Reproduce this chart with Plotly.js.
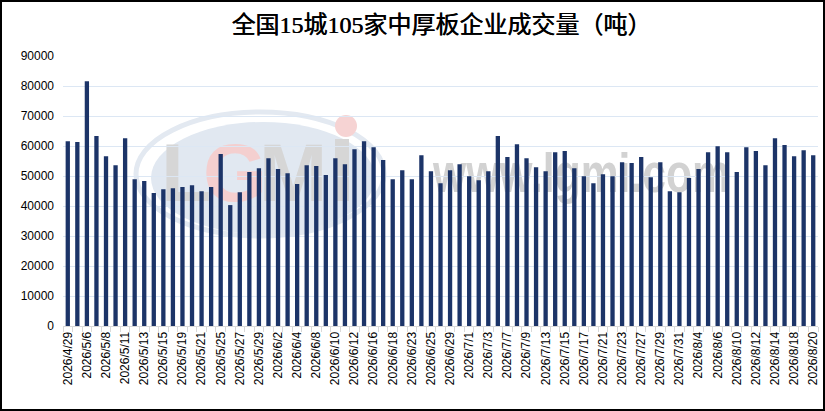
<!DOCTYPE html>
<html>
<head>
<meta charset="utf-8">
<script src="https://cdn.plot.ly/plotly-3.0.1.min.js"></script>
<style>
html,body{margin:0;padding:0;background:#fff;}
#wrap{position:relative;width:825px;height:411px;}
#chart{width:825px;height:411px;}
#frame{position:absolute;left:0;top:0;width:825px;height:411px;box-sizing:border-box;border:2px solid #000;pointer-events:none;}
</style>
</head>
<body>
<div id="wrap"><div id="chart"></div><div id="frame"></div></div>
<script>
const dates = [
"2026/4/29","2026/4/30","2026/5/6","2026/5/7","2026/5/8","2026/5/9","2026/5/11","2026/5/12","2026/5/13","2026/5/14",
"2026/5/15","2026/5/18","2026/5/19","2026/5/20","2026/5/21","2026/5/22","2026/5/25","2026/5/26","2026/5/27","2026/5/28",
"2026/5/29","2026/6/1","2026/6/2","2026/6/3","2026/6/4","2026/6/5","2026/6/8","2026/6/9","2026/6/10","2026/6/11",
"2026/6/12","2026/6/15","2026/6/16","2026/6/17","2026/6/18","2026/6/22","2026/6/23","2026/6/24","2026/6/25","2026/6/26",
"2026/6/29","2026/6/30","2026/7/1","2026/7/2","2026/7/3","2026/7/6","2026/7/7","2026/7/8","2026/7/9","2026/7/10",
"2026/7/13","2026/7/14","2026/7/15","2026/7/16","2026/7/17","2026/7/20","2026/7/21","2026/7/22","2026/7/23","2026/7/24",
"2026/7/27","2026/7/28","2026/7/29","2026/7/30","2026/7/31","2026/8/3","2026/8/4","2026/8/5","2026/8/6","2026/8/7",
"2026/8/10","2026/8/11","2026/8/12","2026/8/13","2026/8/14","2026/8/17","2026/8/18","2026/8/19","2026/8/20"
];
const volume = [
61600,61300,81600,63300,56600,53600,62600,48900,48300,44300,
45600,45900,46300,46900,44900,46300,57300,40300,44600,51300,
52600,55900,52300,50900,47300,53600,53300,50300,55900,53900,
58900,61600,59600,55300,48900,51900,48900,56900,51600,47600,
51900,53900,49900,48600,51600,63300,56300,60600,55900,52900,
51600,57900,58300,52600,49900,47600,50600,49900,54600,54300,
56300,49600,54600,44900,44600,49300,52300,57900,59900,57900,
51300,59600,58300,53600,62600,60300,56600,58600,56900
];
const tickLabels = dates.map((d, i) => (i % 2 === 0 ? d : ""));
const titleText = "全国15城105家中厚板企业成交量（吨）";

// watermark drawn in plot-area pixel space (755 x 270)
const wm = '<svg xmlns="http://www.w3.org/2000/svg" width="755" height="270" viewBox="0 0 755 270">' +
  '<ellipse cx="197" cy="118" rx="124" ry="62" fill="none" stroke="#e3e9f1" stroke-width="5"/>' +
  '<ellipse cx="200" cy="122" rx="112" ry="56" fill="#e1e8f1"/>' +
  '<text x="98" y="145" font-family="Liberation Sans" font-weight="bold" font-size="82" fill="#d6d6d6">L</text>' +
  '<text x="140" y="145" font-family="Liberation Sans" font-weight="bold" font-size="82" fill="#f4cfcf">G</text>' +
  '<text x="196" y="145" font-family="Liberation Sans" font-weight="bold" font-size="82" fill="#d6d6d6">M</text>' +
  '<rect x="272" y="83" width="14" height="62" fill="#d6d6d6"/>' +
  '<circle cx="283" cy="70" r="11" fill="#f6d3d3"/>' +
  '<text x="370" y="136" font-family="Liberation Sans" font-weight="bold" font-size="56" fill="#d2d2d2" textLength="297" lengthAdjust="spacingAndGlyphs">www.lgmi.com</text>' +
  '</svg>';

const trace = {
  type: "bar",
  x: dates,
  y: volume,
  marker: {color: "#1c3468"},
  hoverinfo: "x+y"
};

const layout = {
  width: 825,
  height: 411,
  margin: {l: 63, r: 7, t: 56, b: 85},
  paper_bgcolor: "#ffffff",
  plot_bgcolor: "rgba(0,0,0,0)",
  bargap: 0.55,
  showlegend: false,
  title: {
    text: titleText,
    x: 0.535, xanchor: "center",
    y: 0.94, yanchor: "middle",
    font: {family: "Liberation Serif, 'Noto Sans CJK SC'", size: 24, color: "#000", weight: "normal", shadow: "0.5px 0 0 #000"}
  },
  xaxis: {
    type: "category",
    tickvals: dates,
    ticktext: tickLabels,
    tickangle: -90,
    tickson: "boundaries",
    ticks: "outside",
    ticklen: 5,
    tickcolor: "#d9d9d9",
    showline: true,
    linecolor: "#d9d9d9",
    linewidth: 1,
    showgrid: false,
    tickfont: {family: "Liberation Sans", size: 12, color: "#000"},
    automargin: false
  },
  yaxis: {
    range: [0, 90000],
    dtick: 10000,
    tickformat: "d",
    showgrid: true,
    gridcolor: "#dce7f4",
    gridwidth: 1,
    zeroline: false,
    ticks: "",
    ticklabelstandoff: 8,
    tickfont: {family: "Liberation Sans", size: 12, color: "#000"},
    automargin: false
  },
  images: [{
    source: "data:image/svg+xml;charset=utf-8," + encodeURIComponent(wm),
    xref: "paper", yref: "paper",
    x: 0, y: 1, sizex: 1, sizey: 1,
    xanchor: "left", yanchor: "top",
    sizing: "stretch",
    layer: "below",
    opacity: 1
  }]
};

Plotly.newPlot("chart", [trace], layout, {displayModeBar: false, staticPlot: true});
</script>
</body>
</html>
